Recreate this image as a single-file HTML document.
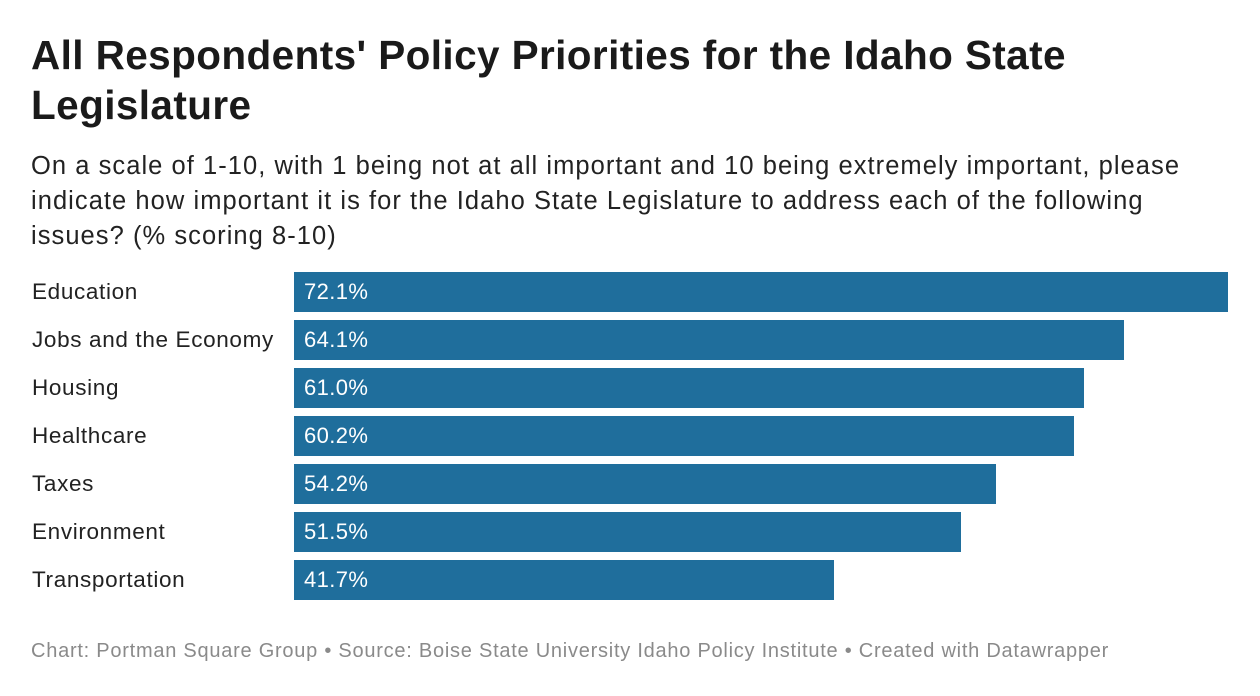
<!DOCTYPE html>
<html><head><meta charset="utf-8">
<style>
body{margin:0;width:1260px;height:696px;background:#fff;font-family:"Liberation Sans",sans-serif;color:#1a1a1a;position:relative;overflow:hidden}
#title{position:absolute;left:31px;top:30px;font-size:40.5px;font-weight:bold;line-height:50px;margin:0;width:1230px;letter-spacing:0.4px;white-space:nowrap}
#sub{position:absolute;left:31px;top:149px;font-size:25.5px;line-height:35px;width:1230px;color:#222;letter-spacing:1.05px;white-space:nowrap}
#foot{position:absolute;left:31px;top:640px;font-size:20px;color:#8a8a8a;letter-spacing:0.75px;white-space:nowrap}
.lab{position:absolute;left:32px;font-size:22.5px;line-height:40px;color:#222;letter-spacing:0.65px}
.bar{position:absolute;height:40px;background:#1f6e9c}
.val{position:absolute;font-size:22px;line-height:40px;color:#fff;letter-spacing:0.4px}
</style></head><body>
<h1 id="title">All Respondents' Policy Priorities for the Idaho State<br>Legislature</h1>
<div id="sub">On a scale of 1-10, with 1 being not at all important and 10 being extremely important, please<br>indicate how important it is for the Idaho State Legislature to address each of the following<br>issues? (% scoring 8-10)</div>
<div id="chart"></div>
<div id="foot">Chart: Portman Square Group • Source: Boise State University Idaho Policy Institute • Created with Datawrapper</div>
<script>
const categories=["Education","Jobs and the Economy","Housing","Healthcare","Taxes","Environment","Transportation"];
const values=[72.1,64.1,61.0,60.2,54.2,51.5,41.7];
const x0=294,xMax=72.1,xW=934,y0=272,step=48;
function xs(v){return v/xMax*xW;}
function ys(i){return y0+i*step;}
const c=document.getElementById('chart');
categories.forEach((cat,i)=>{
  const l=document.createElement('div');l.className='lab';l.style.top=ys(i)+'px';l.textContent=cat;
  
  
  c.appendChild(l);
  const b=document.createElement('div');b.className='bar';b.style.left=x0+'px';b.style.top=ys(i)+'px';b.style.width=xs(values[i])+'px';
  
  
  c.appendChild(b);
  const v=document.createElement('div');v.className='val';v.style.left=(x0+10)+'px';v.style.top=ys(i)+'px';v.textContent=values[i].toFixed(1)+'%';
  
  
  c.appendChild(v);
});
</script>
</body></html>
